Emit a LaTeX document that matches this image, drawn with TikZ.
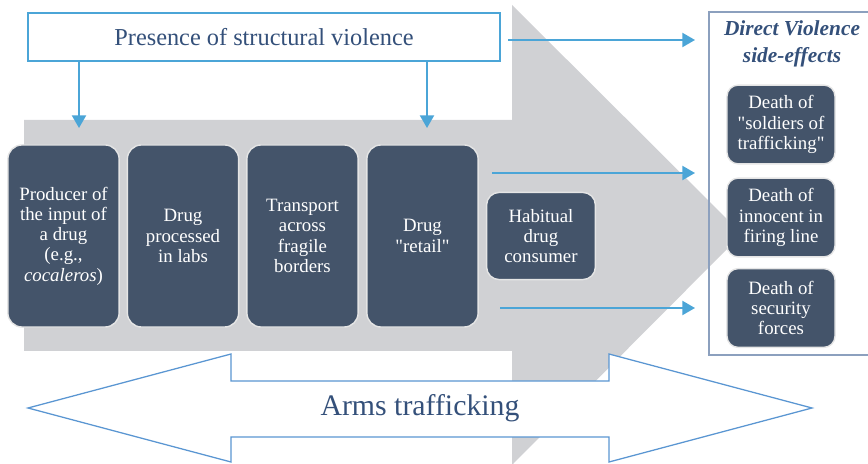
\documentclass[tikz,border=0pt]{standalone}
\usepackage{fontspec}
\setmainfont{Liberation Serif}
\usetikzlibrary{arrows.meta}
\definecolor{slate}{RGB}{68,84,106}
\definecolor{skyline}{RGB}{75,165,215}
\definecolor{inkblue}{RGB}{52,80,122}
\definecolor{frameblue}{RGB}{140,160,190}
\definecolor{armblue}{RGB}{90,150,210}
\definecolor{shaftgray}{RGB}{208,209,212}
\tikzset{
  stage/.style={rounded corners=10pt, fill=slate, draw=gray!20, line width=1pt, text=white, align=center, font=\fontsize{13.4}{14.4}\selectfont, inner sep=2pt},
  tall/.style={stage, minimum width=2.78cm, minimum height=4.55cm},
  death/.style={stage, rounded corners=8pt, minimum width=2.7cm, minimum height=1.97cm},
  flow/.style={draw=skyline, line width=1.4pt, -{Triangle[length=9pt,width=10pt]}},
}
\begin{document}
\begin{tikzpicture}[x=0.025cm, y=-0.025cm]
        \useasboundingbox (0,0) rectangle (868,464);
        % big grey arrow
        \fill [shaftgray] (24,120) -- (512,120) -- (512,5) -- (742,234) -- (512,465) -- (512,351) -- (24,351) -- cycle;
        % arms trafficking
        \filldraw [draw=armblue, fill=white, line width=0.9pt] (28,408) -- (231,354) -- (231,381) -- (609,381) -- (609,354) -- (812,408) -- (609,462) -- (609,437) -- (231,437) -- (231,462) -- cycle;
        \node (arms) at (420,408) [text=inkblue, font=\fontsize{21.2}{24}\selectfont] {Arms trafficking};

        \node (pres) at (264,37) [draw=skyline, line width=1.2pt, fill=white, minimum width=11.8cm, minimum height=1.2cm, text=inkblue, font=\fontsize{17.3}{20}\selectfont] {Presence of structural violence};

        \node (prod) at (63.5,236) [tall] {Producer of\\the input of\\a drug\\(e.g.,\\\textit{cocaleros})};
        \node (lab) at (183,236) [tall] {Drug\\processed\\in labs};
        \node (trans) at (302.5,236) [tall] {Transport\\across\\fragile\\borders};
        \node (retail) at (422.5,236) [tall] {Drug\\\textquotedbl retail\textquotedbl};
        \node (cons) at (541,236) [stage, rounded corners=9pt, minimum width=2.72cm, minimum height=2.18cm] {Habitual\\drug\\consumer};

        % side effects
        \draw [frameblue, line width=0.9pt] (709,12) rectangle (880,355);
        \node (dvt) at (792,44) [text=inkblue, align=center, font=\fontsize{15.2}{19}\selectfont\bfseries\itshape] {Direct Violence\\side-effects};
        \node (soldiers) at (781,124.5) [death] {Death of\\\textquotedbl soldiers of\\trafficking\textquotedbl};
        \node (innocent) at (781,217.5) [death] {Death of\\innocent in\\firing line};
        \node (security) at (781,308) [death] {Death of\\security\\forces};

        \coordinate (prodin) at (79,128);
        \coordinate (retailin) at (427,128);
        \coordinate (outup) at (508,40);
        \coordinate (outmid) at (492,173);
        \coordinate (outlow) at (500,308);
        \coordinate (sideup) at (695,40);
        \coordinate (sidemid) at (695,173);
        \coordinate (sidelow) at (695,308);

        \draw [flow] (pres.south -| prodin) -- (prodin);
        \draw [flow] (pres.south -| retailin) -- (retailin);
        \draw [flow] (outup) -- (sideup);
        \draw [flow] (outmid) -- (sidemid);
        \draw [flow] (outlow) -- (sidelow);
\end{tikzpicture}
\end{document}
